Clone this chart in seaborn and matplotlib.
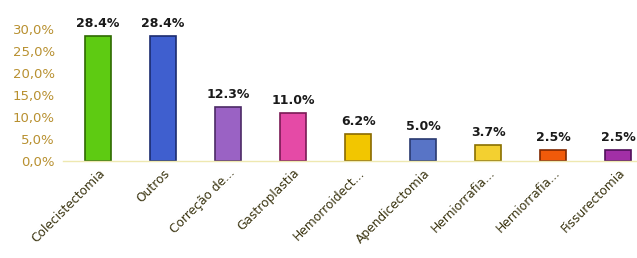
import numpy as np
import pandas as pd
import seaborn as sns
import matplotlib.pyplot as plt

procedures = ['Colecistectomia', 'Outros', 'Correção de...', 'Gastroplastia',
              'Hemorroidect...', 'Apendicectomia', 'Herniorrafia...',
              'Herniorrafia...', 'Fissurectomia']
share = [28.4, 28.4, 12.3, 11.0, 6.2, 5.0, 3.7, 2.5, 2.5]
colors = ['#5ecb12', '#3f5fcf', '#9a62c4', '#e54aa6', '#f2c600',
          '#5874c6', '#f3d030', '#f05a0a', '#a22fa6']
edges = ['#2e6a00', '#1c2c70', '#4c2a66', '#7a1a55', '#8a6a00',
         '#2a3a70', '#8a7000', '#802800', '#50105a']

df = pd.DataFrame({'pos': [str(i) for i in range(len(share))], 'share': share})

sns.set_style('white')
plt.rcParams['font.family'] = ['DejaVu Sans']

fig = plt.figure(figsize=(6.37, 2.58), dpi=100)
ax = fig.add_axes([0.099, 0.376, 0.901, 0.512])

sns.barplot(data=df, x='pos', y='share', hue='pos', palette=colors,
            legend=False, width=0.4, saturation=1, ax=ax)
for patch, ec in zip(ax.patches, edges):
    patch.set_edgecolor(ec)
    patch.set_linewidth(1.2)

for i, v in enumerate(share):
    ax.text(i, v + 1.3, '%.1f%%' % v, ha='center', va='bottom',
            fontsize=9, fontweight='bold', color='#1a1a1a', clip_on=False)

ax.set_xlim(-0.54, 8.29)
ax.set_ylim(0, 30)
ax.set_yticks(np.arange(0, 31, 5))
ax.yaxis.set_major_formatter(plt.FuncFormatter(lambda t, p: ('%.1f%%' % t).replace('.', ',')))
ax.set_xticks(range(len(procedures)))
ax.set_xticklabels(procedures, rotation=45, ha='right', rotation_mode='anchor')
ax.tick_params(axis='y', labelsize=9.5, colors='#b89030', length=0, pad=6)
ax.tick_params(axis='x', labelsize=8.8, colors='#3a3410', length=0, pad=4)
ax.set_xlabel('')
ax.set_ylabel('')
for s in ['top', 'right', 'left']:
    ax.spines[s].set_visible(False)
ax.spines['bottom'].set_color('#eee8b0')
ax.spines['bottom'].set_linewidth(1)

fig.savefig('out.png', dpi=100)
